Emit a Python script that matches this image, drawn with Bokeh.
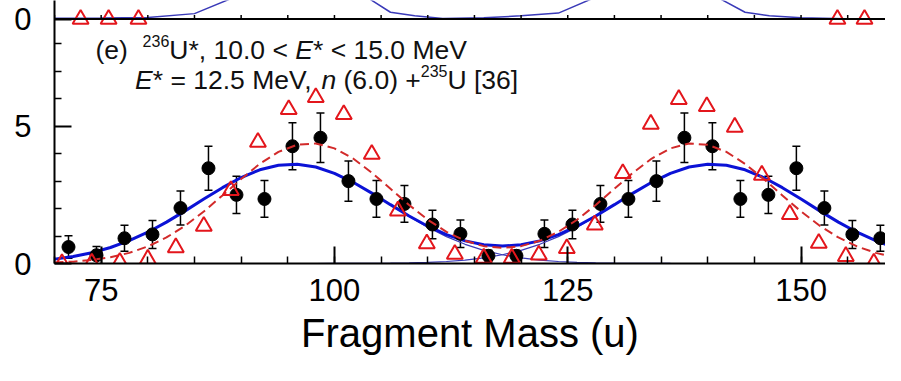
from bokeh.plotting import figure
from bokeh.models import (Range1d, SingleIntervalTicker, FixedTicker, Label, Whisker,
                          TeeHead, ColumnDataSource, Span)
from bokeh.embed import file_html
from bokeh.resources import INLINE

# ---------------- data ----------------
# measured fragment yields (black points)
mass = [71.5, 74.5, 77.5, 80.5, 83.5, 86.5, 89.5, 92.5, 95.5, 98.5,
        101.5, 104.5, 107.5, 110.5, 113.5, 116.5, 119.5, 122.5, 125.5, 128.5,
        131.5, 134.5, 137.5, 140.5, 143.5, 146.5, 149.5, 152.5, 155.5, 158.5]
yield_exp = [0.60, 0.30, 0.92, 1.06, 2.02, 3.47, 2.50, 2.35, 4.27, 4.58,
             3.00, 2.35, 2.17, 1.42, 1.08, 0.28, 0.28, 1.08, 1.42, 2.17,
             2.35, 3.00, 4.58, 4.27, 2.35, 2.50, 3.47, 2.02, 1.06, 0.92]
yield_err = [0.41, 0.32, 0.47, 0.51, 0.62, 0.80, 0.68, 0.67, 0.86, 0.90,
             0.73, 0.67, 0.67, 0.52, 0.50, 0.20, 0.20, 0.50, 0.52, 0.67,
             0.67, 0.73, 0.90, 0.86, 0.67, 0.68, 0.80, 0.62, 0.51, 0.47]

# reference data n(6.0)+235U [36] (red triangles)
ref_mass = [70.8, 74.0, 77.0, 80.0, 83.0, 86.0, 88.9, 91.8, 95.1, 98.0,
            101.0, 104.0, 106.8, 109.9, 112.9, 116.0, 119.0, 121.9, 124.9, 127.9,
            130.9, 133.9, 136.9, 139.9, 142.9, 145.8, 148.8, 151.9, 154.8, 157.8]
ref_yield = [0.00, 0.02, 0.05, 0.16, 0.58, 1.36, 2.66, 4.42, 5.61, 6.05,
             5.43, 3.98, 1.92, 0.72, 0.34, 0.20, 0.20, 0.31, 0.55, 1.41,
             3.28, 5.08, 5.98, 5.72, 4.97, 3.22, 1.79, 0.74, 0.26, 0.02]

# fitted curves, sampled every 2 u
fit_mass = [70, 72, 74, 76, 78, 80, 82, 84, 86, 88, 90, 92, 94, 96, 98, 100,
            102, 104, 106, 108, 110, 112, 114, 116, 118, 120, 122, 124, 126, 128,
            130, 132, 134, 136, 138, 140, 142, 144, 146, 148, 150, 152, 154, 156,
            158, 160]
fit_light = [0.159, 0.254, 0.392, 0.582, 0.830, 1.140, 1.507, 1.917, 2.346, 2.762,
             3.130, 3.413, 3.581, 3.616, 3.513, 3.284, 2.955, 2.558, 2.131, 1.708,
             1.317, 0.978, 0.699, 0.480, 0.318, 0.202, 0.124, 0.073, 0.041, 0.023,
             0.012, 0.006, 0.003, 0.001, 0.0, 0.0, 0.0, 0.0, 0.0, 0.0,
             0.0, 0.0, 0.0, 0.0, 0.0, 0.0]
fit_heavy = [0.0, 0.0, 0.0, 0.0, 0.0, 0.0, 0.0, 0.0, 0.0, 0.0,
             0.0, 0.0, 0.0, 0.0, 0.0, 0.001, 0.003, 0.006, 0.012, 0.023,
             0.041, 0.073, 0.124, 0.202, 0.318, 0.480, 0.699, 0.978, 1.317, 1.708,
             2.131, 2.558, 2.955, 3.284, 3.513, 3.616, 3.581, 3.413, 3.130, 2.762,
             2.346, 1.917, 1.507, 1.140, 0.830, 0.582]
fit_total = [0.159, 0.254, 0.392, 0.582, 0.830, 1.140, 1.507, 1.917, 2.346, 2.762,
             3.130, 3.413, 3.581, 3.616, 3.513, 3.285, 2.958, 2.564, 2.143, 1.731,
             1.358, 1.051, 0.823, 0.682, 0.636, 0.682, 0.823, 1.051, 1.358, 1.731,
             2.143, 2.564, 2.958, 3.285, 3.513, 3.616, 3.581, 3.413, 3.130, 2.762,
             2.346, 1.917, 1.507, 1.140, 0.830, 0.582]
ref_fit = [0.034, 0.068, 0.128, 0.228, 0.386, 0.621, 0.948, 1.375, 1.894, 2.477,
           3.077, 3.629, 4.065, 4.325, 4.370, 4.193, 3.822, 3.309, 2.723, 2.132,
           1.594, 1.153, 0.828, 0.632, 0.566, 0.632, 0.828, 1.153, 1.594, 2.132,
           2.723, 3.309, 3.822, 4.193, 4.370, 4.325, 4.065, 3.629, 3.077, 2.477,
           1.894, 1.375, 0.948, 0.621, 0.386, 0.228]

# y-axis ticks: panel (e) plus the "0" of the panel above, whose zero sits at PREV_ZERO
PREV_ZERO = 8.90
y_major_ticks = [0, 5, PREV_ZERO]
y_minor_ticks = [1, 2, 3, 4, 6, 7, 8]
y_tick_labels = {0: "0", 5: "5", PREV_ZERO: "0"}

# bottom edge of the panel above (d), drawn on its own y scale
prev_tick_mass = [70, 75, 80, 85, 90, 95, 100, 105, 110, 115, 120, 125, 130,
                  135, 140, 145, 150, 155]
prev_ref_mass = [72.8, 75.8, 79.0, 153.9, 156.8]
prev_ref_yield = [0.0, 0.0, 0.0, 0.0, 0.0]
prev_fit_mass = [70, 75, 80, 85, 90, 103, 106, 108.6, 111.6, 116, 120, 124, 128,
                 141, 144, 146.6, 150, 154.7, 159]
prev_fit_yield = [0.03, 0.04, 0.06, 0.2, 0.9, 0.9, 0.25, 0.12, 0.02, 0.05, 0.12,
                  0.22, 0.8, 0.8, 0.25, 0.12, 0.05, 0.01, 0.0]

# ---------------- styles ----------------
FONT = "Liberation Sans"
BLUE = "#0b12d6"
THIN_BLUE = "#3a3ab8"
RED = "#e3161c"
RED_LINE = "#d22a2a"
PREV_TICK_LEN = 0.15        # length of the upper panel's ticks, in its units
Y_TOP = 9.578

p = figure(width=885, height=365,
           x_range=Range1d(70.0, 159.05), y_range=Range1d(0, Y_TOP),
           output_backend="svg", toolbar_location=None,
           min_border_left=54, min_border_right=0, min_border_top=0,
           min_border_bottom=102)
p.extra_y_ranges = {"prev": Range1d(-PREV_ZERO, Y_TOP - PREV_ZERO)}
p.outline_line_color = None
p.grid.visible = False

p.xaxis.ticker = SingleIntervalTicker(interval=25, num_minor_ticks=5)
p.yaxis.ticker = FixedTicker(ticks=y_major_ticks, minor_ticks=y_minor_ticks)
p.yaxis.major_label_overrides = y_tick_labels
for ax in (p.xaxis, p.yaxis):
    ax.major_tick_in = 17
    ax.major_tick_out = 0
    ax.minor_tick_in = 7
    ax.minor_tick_out = 0
    ax.axis_line_width = 2
    ax.axis_line_color = "black"
    ax.major_tick_line_width = 2
    ax.major_tick_line_color = "black"
    ax.minor_tick_line_width = 1.5
    ax.minor_tick_line_color = "black"
    ax.major_label_text_font = FONT
    ax.major_label_text_font_size = "31px"
    ax.major_label_text_color = "black"
p.xaxis.major_label_standoff = 15
p.yaxis.major_label_standoff = 23
p.xaxis.axis_label = "Fragment Mass (u)"
p.xaxis.axis_label_text_font = FONT
p.xaxis.axis_label_text_font_size = "40px"
p.xaxis.axis_label_text_font_style = "normal"
p.xaxis.axis_label_text_color = "black"
p.xaxis.axis_label_standoff = 7

# ---------- strip: bottom of the panel above ----------
p.line(prev_fit_mass, prev_fit_yield, line_color=THIN_BLUE, line_width=1.5,
       y_range_name="prev")
p.add_layout(Span(location=0, dimension="width", y_range_name="prev",
                  line_color="black", line_width=2))
p.segment(x0=prev_tick_mass, y0=[0] * len(prev_tick_mass),
          x1=prev_tick_mass, y1=[PREV_TICK_LEN] * len(prev_tick_mass),
          line_color="black", line_width=1.5, y_range_name="prev")
p.scatter(prev_ref_mass, prev_ref_yield, marker="triangle", size=16,
          line_color=RED, fill_color=None, line_width=2, y_range_name="prev")

# ---------- panel (e) ----------
p.line(fit_mass, fit_light, line_color=THIN_BLUE, line_width=1.2)
p.line(fit_mass, fit_heavy, line_color=THIN_BLUE, line_width=1.2)
p.line(fit_mass, fit_total, line_color=BLUE, line_width=3)

src = ColumnDataSource(dict(
    mass=mass, y=yield_exp,
    upper=[v + e for v, e in zip(yield_exp, yield_err)],
    lower=[v - e for v, e in zip(yield_exp, yield_err)]))
p.add_layout(Whisker(source=src, base="mass", upper="upper", lower="lower",
                     line_color="black", line_width=1.5,
                     upper_head=TeeHead(size=8, line_color="black", line_width=1.5),
                     lower_head=TeeHead(size=8, line_color="black", line_width=1.5)))
p.scatter("mass", "y", source=src, size=13, color="black")

p.line(fit_mass, ref_fit, line_color=RED_LINE, line_width=2, line_dash="9 5")
p.scatter(ref_mass, ref_yield, marker="triangle", size=16,
          line_color=RED, fill_color=None, line_width=2)


# annotation text, built from pieces (superscripts, italics)
def piece(x, y, text, size="26.5px", style="normal"):
    p.add_layout(Label(x=x, y=y, x_units="screen", y_units="screen", text=text,
                       text_align="left", text_baseline="alphabetic",
                       text_font=FONT, text_font_size=size,
                       text_font_style=style, text_color="#111111"))


y1, y2 = 213.2, 183.5
piece(41, y1, "(e)")
piece(88.1, y1 + 9, "236", size="16px")
piece(114.8, y1, "U*, 10.0 <")
piece(240.8, y1, "E", style="italic")
piece(258.5, y1, "* < 15.0 MeV")

piece(80.5, y2, "E", style="italic")
piece(98.2, y2, "* = 12.5 MeV,")
piece(266.9, y2, "n", style="italic")
piece(289.0, y2, "(6.0) +")
piece(366.3, y2 + 9, "235", size="16px")
piece(393.0, y2, "U [36]")

open("out.html", "w").write(file_html(p, INLINE))
